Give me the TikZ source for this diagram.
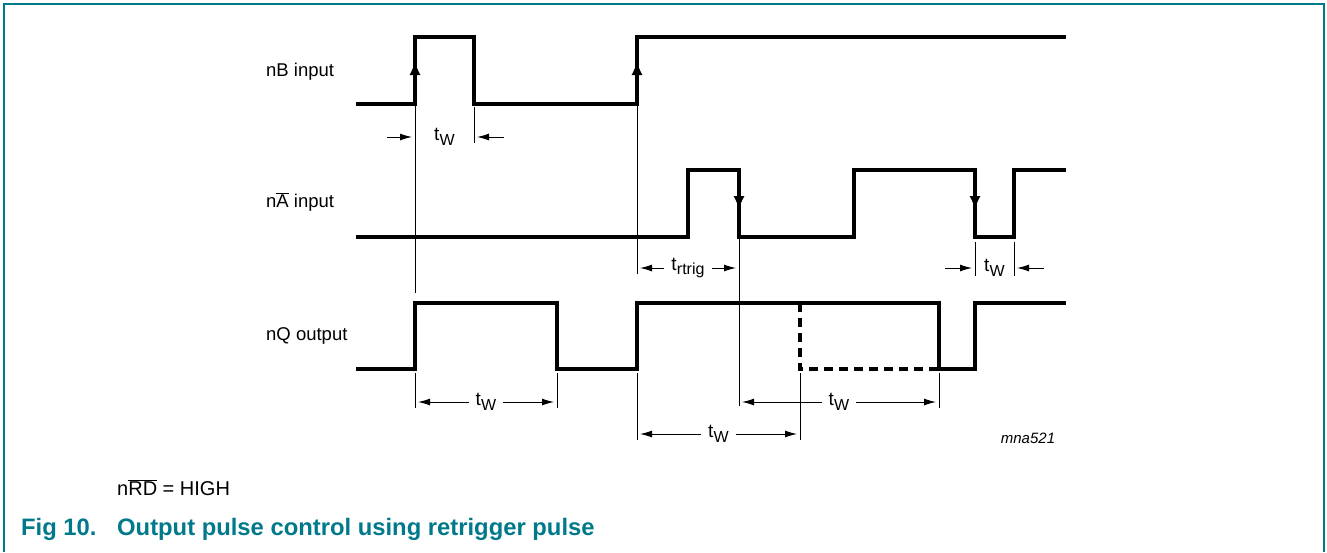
\documentclass[tikz,border=0pt]{standalone}
\usepackage{fontspec}
\setmainfont{Liberation Sans}
\usetikzlibrary{arrows.meta}
\definecolor{nxpteal}{RGB}{0,121,139}
\newcommand{\tsub}[1]{t\kern0.2pt\raisebox{-4.5pt}{\fontsize{16}{17}\selectfont #1}}
\tikzset{
	frame/.style = {nxpteal, line width=1.5pt},
	sig/.style = {line width=3.2pt},
	thinln/.style = {line width=1pt},
	edgetip/.style = {line width=1pt, -{Latex[length=13pt,width=11pt]}},
	dimarr/.style = {line width=1pt, -{Latex[length=12pt,width=7pt]}},
	dimboth/.style = {line width=1pt, {Latex[length=12pt,width=7pt]}-{Latex[length=12pt,width=7pt]}, shorten <=3pt, shorten >=3pt},
	dimlbl/.style = {font=\fontsize{19}{20}\selectfont, fill=white, inner xsep=7pt, inner ysep=0pt},
	lbl/.style = {font=\fontsize{18.5}{21}\selectfont, inner sep=0pt, anchor=west},
}
\begin{document}
\begin{tikzpicture}[x=1pt, y=-1pt]
	\useasboundingbox (0,0) rectangle (1327,552);
	\draw[frame] (4,552) -- (4,4) -- (1324,4) -- (1324,552);

	% signal names
	\node[lbl](lblB) at (266,72) {nB input};
	\node[lbl](lblA) at (266,202) {n$\overline{\hbox{A}}$ input};
	\node[lbl](lblQ) at (266,336) {nQ output};

	% waveforms
	\draw[sig] (356,104) -| (415,37) -| (474,104) -| (637,37) -- (1066,37);
	\draw[sig] (356,237) -| (688,170) -| (739,237) -| (854,170) -| (975,237) -| (1014,170) -- (1066,170);
	\draw[sig] (356,369) -| (415,303) -| (557,369) -| (637,303) -| (939,369) -| (975,303) -- (1066,303);
	\draw[sig, dash pattern=on 9pt off 6pt] (800,303) -- (800,369) -- (939,369);

	% active edges
	\draw[edgetip] (415,88) -- (415,62);
	\draw[edgetip] (637,88) -- (637,62);
	\draw[edgetip] (739,182) -- (739,209);
	\draw[edgetip] (975,182) -- (975,209);

	% reference lines
	\draw[thinln] (415,104) -- (415,293);
	\draw[thinln] (474,107) -- (474,143);
	\draw[thinln] (637,104) -- (637,274);
	\draw[thinln] (739,237) -- (739,406);
	\draw[thinln] (975,242) -- (975,276);
	\draw[thinln] (1014,242) -- (1014,276);
	\draw[thinln] (415,373) -- (415,408);
	\draw[thinln] (557,373) -- (557,408);
	\draw[thinln] (637,373) -- (637,440);
	\draw[thinln] (800,373) -- (800,440);
	\draw[thinln] (939,373) -- (939,408);

	% timing
	\draw[dimarr] (387,137) -- (412,137);
	\draw[dimarr] (504,137) -- (477,137);
	\node[dimlbl](twB) at (444.5,137) {\tsub{W}};
	\draw[dimboth] (637,268) -- node[dimlbl](trtrig){\tsub{rtrig}} (739,268);
	\draw[dimarr] (945,268) -- (972,268);
	\draw[dimarr] (1044,268) -- (1017,268);
	\node[dimlbl](twA) at (994.5,268) {\tsub{W}};
	\draw[dimboth] (415,402) -- node[dimlbl](twQa){\tsub{W}} (557,402);
	\draw[dimboth] (739,402) -- node[dimlbl](twQb){\tsub{W}} (939,402);
	\draw[dimboth] (637,434) -- node[dimlbl](twQc){\tsub{W}} (800,434);

	\node[font=\fontsize{15}{16}\selectfont\itshape, inner sep=0pt](code) at (1028,438) {mna521};

	\node[lbl](cond) at (117,488) {\fontsize{20}{22}\selectfont n$\overline{\hbox{RD}}$ = HIGH};
	\node[lbl, nxpteal, font=\fontsize{23.8}{25}\selectfont\bfseries](figno) at (21,529) {Fig 10.};
	\node[lbl, nxpteal, font=\fontsize{23.8}{25}\selectfont\bfseries](figcap) at (117,529) {Output pulse control using retrigger pulse};
\end{tikzpicture}
\end{document}
